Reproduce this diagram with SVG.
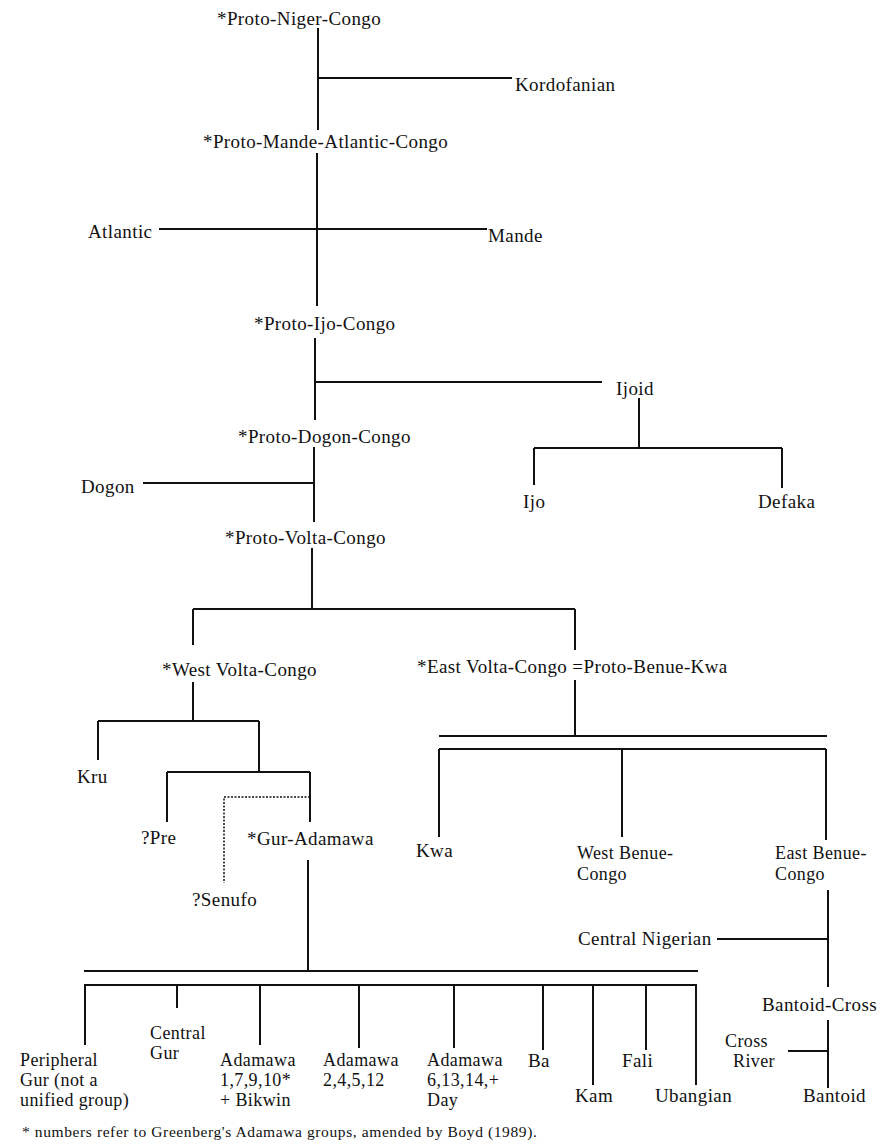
<svg xmlns="http://www.w3.org/2000/svg" width="882" height="1145" viewBox="0 0 882 1145">
<style>
text{font-family:"Liberation Serif","Times New Roman",serif;font-size:19px;letter-spacing:0.4px;fill:#111}
.m{font-size:18px;letter-spacing:0.4px}
.fn{font-size:15.5px;letter-spacing:0.6px}
.c line,.c path{stroke:#111;stroke-width:2;fill:none}
.c .dot{stroke-width:1.5;stroke-dasharray:2 1.5}
</style>
<rect width="882" height="1145" fill="#fff"/>
<g class="c" id="connectors">
<path d="M318 28V130M318 78H512"/>
<path d="M317 153V306M159 229H487"/>
<path d="M315 338V420M315 382H602"/>
<path d="M639 398V448M534 448H782M534 448V485M782 448V488"/>
<path d="M314 447V522M143 483H314"/>
<path d="M312 548V609M193 609H575M193 609V645M575 609V650"/>
<path d="M193 682V721M98 721H259M98 721V760M259 721V772M167 772H310M167 772V822M310 772V822"/>
<path class="dot" d="M310 797H224V883"/>
<path d="M575 680V736M439 736H827M439 749H826M439 749V837M622 749V837M826 749V840"/>
<path d="M828 890V987M717 939H828"/>
<path d="M828 1020V1088M788 1051H828"/>
<path d="M308 860V971M84 971H698M84 985H697"/>
<path d="M85 985V1045M177 985V1008M260 985V1045M359 985V1048M454 985V1048M543 985V1050M593 985V1085M646 985V1050M696 985V1085"/>
</g>
<g id="proto-niger-congo"><text x="217" y="25">*Proto-Niger-Congo</text></g>
<g id="kordofanian"><text x="515" y="91">Kordofanian</text></g>
<g id="proto-mande-atlantic-congo"><text x="203" y="148">*Proto-Mande-Atlantic-Congo</text></g>
<g id="atlantic"><text x="88" y="238">Atlantic</text></g>
<g id="mande"><text x="488" y="242">Mande</text></g>
<g id="proto-ijo-congo"><text x="254" y="330">*Proto-Ijo-Congo</text></g>
<g id="ijoid"><text x="616" y="395">Ijoid</text></g>
<g id="ijo"><text x="523" y="508">Ijo</text></g>
<g id="defaka"><text x="758" y="508">Defaka</text></g>
<g id="proto-dogon-congo"><text x="238" y="443">*Proto-Dogon-Congo</text></g>
<g id="dogon"><text x="81" y="493">Dogon</text></g>
<g id="proto-volta-congo"><text x="225" y="544">*Proto-Volta-Congo</text></g>
<g id="west-volta-congo"><text x="162" y="676">*West Volta-Congo</text></g>
<g id="east-volta-congo"><text x="417" y="673">*East Volta-Congo =Proto-Benue-Kwa</text></g>
<g id="kru"><text x="77" y="783">Kru</text></g>
<g id="pre"><text x="141" y="844">?Pre</text></g>
<g id="gur-adamawa"><text x="247" y="845">*Gur-Adamawa</text></g>
<g id="senufo"><text x="192" y="906">?Senufo</text></g>
<g id="kwa"><text x="416" y="857">Kwa</text></g>
<g id="west-benue-congo"><text class="m" x="577" y="859">West Benue-<tspan x="577" dy="21">Congo</tspan></text></g>
<g id="east-benue-congo"><text class="m" x="775" y="859">East Benue-<tspan x="775" dy="21">Congo</tspan></text></g>
<g id="central-nigerian"><text x="578" y="945">Central Nigerian</text></g>
<g id="bantoid-cross"><text x="762" y="1011">Bantoid-Cross</text></g>
<g id="cross-river"><text class="m" x="725" y="1047">Cross<tspan x="733" dy="20">River</tspan></text></g>
<g id="bantoid"><text x="803" y="1102">Bantoid</text></g>
<g id="peripheral-gur"><text class="m" x="20" y="1066">Peripheral<tspan x="20" dy="20">Gur (not a</tspan><tspan x="20" dy="20">unified group)</tspan></text></g>
<g id="central-gur"><text class="m" x="150" y="1039">Central<tspan x="150" dy="20">Gur</tspan></text></g>
<g id="adamawa-1"><text class="m" x="220" y="1066">Adamawa<tspan x="220" dy="20">1,7,9,10*</tspan><tspan x="220" dy="20">+ Bikwin</tspan></text></g>
<g id="adamawa-2"><text class="m" x="323" y="1066">Adamawa<tspan x="323" dy="20">2,4,5,12</tspan></text></g>
<g id="adamawa-6"><text class="m" x="427" y="1066">Adamawa<tspan x="427" dy="20">6,13,14,+</tspan><tspan x="427" dy="20">Day</tspan></text></g>
<g id="ba"><text x="528" y="1067">Ba</text></g>
<g id="kam"><text x="575" y="1102">Kam</text></g>
<g id="fali"><text x="622" y="1067">Fali</text></g>
<g id="ubangian"><text x="655" y="1102">Ubangian</text></g>
<g id="footnote"><text class="fn" x="22" y="1137">* numbers refer to Greenberg's Adamawa groups, amended by Boyd (1989).</text></g>
</svg>
